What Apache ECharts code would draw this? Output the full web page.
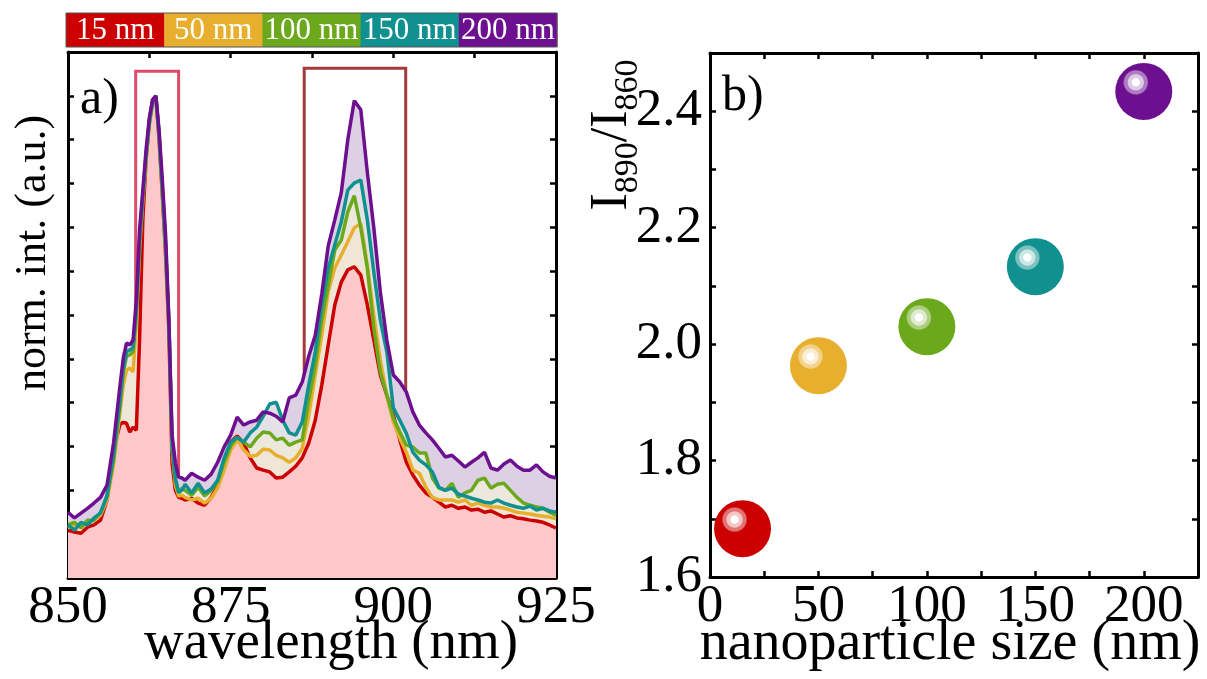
<!DOCTYPE html>
<html>
<head>
<meta charset="utf-8">
<script src="https://cdn.jsdelivr.net/npm/echarts@6/dist/echarts.min.js"></script>
<style>html,body{margin:0;padding:0;background:#fff}#c{width:1207px;height:679px}</style>
</head>
<body>
<div id="c"></div>
<script>
// ---------- data ----------
const wavelengths = [850,851,852,853,854,855,856,857,858,858.5,859,859.5,860,860.5,861,861.5,862,862.5,863,863.5,864,864.5,865,865.5,866,866.5,867,867.5,868,
  869,870,871,872,873,874,875,876,877,878,879,880,881,882,883,884,885,886,887,888,889,890,891,892,893,894,895,896,897,898,899,900,
  901,902,903,904,905,906,907,908,909,910,911,912,913,914,915,916,917,918,919,920,921,922,923,924,925];

const spec15nm = [0.009,0.005,0.002,0.016,0.021,0.032,0.078,0.192,0.251,0.255,0.253,0.233,0.244,0.237,0.443,0.717,0.854,0.945,0.991,1.000,0.900,0.774,0.637,0.466,0.160,0.100,0.084,0.082,0.078,
  0.082,0.071,0.066,0.084,0.112,0.164,0.210,0.224,0.208,0.174,0.151,0.146,0.142,0.128,0.130,0.142,0.155,0.174,0.208,0.260,0.340,0.432,0.523,0.575,0.603,0.610,0.591,0.523,0.443,0.363,0.317,0.272,
  0.215,0.164,0.135,0.112,0.094,0.084,0.073,0.062,0.066,0.059,0.062,0.055,0.057,0.050,0.053,0.046,0.039,0.042,0.037,0.035,0.032,0.030,0.027,0.021,0.014];

const spec50nm = [0.014,0.021,0.021,0.027,0.032,0.043,0.078,0.158,0.279,0.340,0.374,0.379,0.370,0.477,0.648,0.763,0.854,0.934,0.982,1.000,0.906,0.781,0.648,0.477,0.196,0.112,0.087,0.089,0.084,
  0.078,0.082,0.071,0.082,0.105,0.146,0.192,0.215,0.192,0.178,0.180,0.194,0.192,0.180,0.174,0.164,0.174,0.196,0.270,0.363,0.454,0.553,0.607,0.637,0.667,0.699,0.708,0.614,0.500,0.397,0.317,0.256,
  0.219,0.187,0.146,0.139,0.107,0.084,0.078,0.078,0.078,0.073,0.078,0.066,0.071,0.066,0.062,0.062,0.059,0.055,0.050,0.048,0.046,0.043,0.041,0.039,0.035];

const spec100nm = [0.021,0.027,0.014,0.032,0.032,0.050,0.084,0.169,0.295,0.370,0.406,0.409,0.416,0.500,0.660,0.767,0.858,0.936,0.984,1.000,0.909,0.785,0.653,0.484,0.199,0.123,0.094,0.105,0.100,
  0.089,0.107,0.087,0.100,0.119,0.164,0.201,0.221,0.210,0.199,0.219,0.233,0.231,0.215,0.219,0.203,0.210,0.215,0.306,0.386,0.489,0.568,0.648,0.671,0.735,0.772,0.699,0.607,0.470,0.370,0.317,0.265,
  0.233,0.203,0.199,0.185,0.185,0.128,0.105,0.100,0.116,0.084,0.094,0.100,0.123,0.128,0.105,0.114,0.116,0.100,0.084,0.071,0.066,0.062,0.059,0.050,0.043];

const spec150nm = [0.021,0.009,0.027,0.021,0.037,0.048,0.089,0.180,0.306,0.379,0.416,0.420,0.425,0.511,0.671,0.774,0.865,0.941,0.986,1.000,0.911,0.790,0.660,0.489,0.203,0.128,0.096,0.100,0.114,
  0.094,0.116,0.094,0.103,0.123,0.174,0.210,0.221,0.210,0.231,0.244,0.269,0.297,0.301,0.260,0.231,0.226,0.256,0.340,0.416,0.523,0.607,0.660,0.712,0.785,0.801,0.808,0.717,0.598,0.489,0.416,0.288,
  0.260,0.230,0.187,0.169,0.158,0.142,0.107,0.100,0.105,0.091,0.087,0.082,0.078,0.073,0.071,0.078,0.071,0.066,0.062,0.059,0.064,0.055,0.059,0.053,0.050];

const spec200nm = [0.050,0.037,0.048,0.059,0.071,0.084,0.112,0.208,0.340,0.402,0.436,0.432,0.443,0.534,0.694,0.785,0.877,0.950,0.991,1.000,0.922,0.808,0.683,0.489,0.226,0.164,0.130,0.128,0.123,
  0.139,0.130,0.123,0.137,0.164,0.199,0.226,0.267,0.249,0.256,0.260,0.279,0.276,0.269,0.256,0.311,0.317,0.347,0.406,0.454,0.548,0.658,0.717,0.779,0.900,0.989,0.968,0.826,0.699,0.553,0.443,0.363,
  0.347,0.324,0.279,0.249,0.231,0.215,0.196,0.176,0.180,0.167,0.153,0.164,0.174,0.187,0.151,0.146,0.160,0.169,0.155,0.146,0.146,0.158,0.142,0.132,0.128];

const sizeLabels = ['15 nm','50 nm','100 nm','150 nm','200 nm'];
const sizes = [15, 50, 100, 150, 200];
const ratios = [1.683, 1.963, 2.030, 2.133, 2.434];

const xTicksA = [850, 875, 900, 925];
const xTicksB = [0, 50, 100, 150, 200];
const yTicksB = [1.6, 1.8, 2.0, 2.2, 2.4];

// highlighted windows (nm, normalised intensity)
const box860 = [860.4, 867.0, -0.090, 1.056];
const box890 = [886.3, 901.9, -0.082, 1.063];

// ---------- styling ----------
const FONT = '"Liberation Serif", "DejaVu Serif", serif';
const colors = ['#CC0000', '#E8AF2E', '#6BA81C', '#10908F', '#6C1090'];
const areaColors = ['#FEC8CA', '#EFE6D8', '#EDE8DC', '#E4E2E6', '#DDD0E4'];
const spectra = [spec15nm, spec50nm, spec100nm, spec150nm, spec200nm];

function mix(hex, t) {
  const n = parseInt(hex.slice(1), 16);
  const r = (n >> 16) & 255, g = (n >> 8) & 255, b = n & 255;
  const m = v => Math.round(v + (255 - v) * t);
  return 'rgb(' + m(r) + ',' + m(g) + ',' + m(b) + ')';
}
function sphere(c) {
  return {
    type: 'radial', x: 0.36, y: 0.34, r: 0.5,
    colorStops: [
      {offset: 0, color: '#ffffff'}, {offset: 0.13, color: '#ffffff'},
      {offset: 0.16, color: mix(c, 0.78)}, {offset: 0.27, color: mix(c, 0.78)},
      {offset: 0.30, color: mix(c, 0.45)}, {offset: 0.40, color: mix(c, 0.45)},
      {offset: 0.45, color: c}, {offset: 1, color: c}
    ]
  };
}

const axLine = {show: true, onZero: false, lineStyle: {color: '#000', width: 3}};
const axTick = {show: true, inside: true, length: 6, lineStyle: {color: '#000', width: 2.5}};
const noLabel = {show: false};
const tickFont = {color: '#000', fontFamily: FONT, fontSize: 53};

const chart = echarts.init(document.getElementById('c'), null, {renderer: 'canvas'});

const series = [];
// filled areas, back to front: 200 nm ... 15 nm
for (let i = 4; i >= 0; i--) {
  series.push({
    type: 'line', xAxisIndex: 0, yAxisIndex: 0, z: 1, silent: true,
    symbol: 'none', lineStyle: {opacity: 0},
    areaStyle: {color: areaColors[i], opacity: 1, origin: 'start'},
    data: wavelengths.map((w, k) => [w, spectra[i][k]])
  });
}
// lines: 15 nm first, 200 nm on top
for (let i = 0; i <= 4; i++) {
  const s = {
    type: 'line', xAxisIndex: 0, yAxisIndex: 0, z: 2, silent: true,
    symbol: 'none', lineStyle: {color: colors[i], width: 3.5},
    data: wavelengths.map((w, k) => [w, spectra[i][k]])
  };
  if (i === 4) {
    s.markArea = {
      silent: true,
      data: [
        [{xAxis: box860[0], yAxis: box860[3], itemStyle: {color: 'rgba(0,0,0,0)', borderColor: '#DC4C68', borderWidth: 3}},
         {xAxis: box860[1], yAxis: box860[2]}],
        [{xAxis: box890[0], yAxis: box890[3], itemStyle: {color: 'rgba(0,0,0,0)', borderColor: '#A23C3C', borderWidth: 3}},
         {xAxis: box890[1], yAxis: box890[2]}]
      ]
    };
  }
  series.push(s);
}
series.push({
  type: 'scatter', xAxisIndex: 2, yAxisIndex: 2, z: 3, silent: true,
  symbol: 'circle', symbolSize: 57,
  data: sizes.map((s, i) => ({value: [s, ratios[i]], itemStyle: {color: sphere(colors[i]), opacity: 1}}))
});

// legend strip
const legendX = 66, legendY = 13, legendW = 98.2, legendH = 34;
const graphic = [];
sizeLabels.forEach((t, i) => {
  graphic.push({type: 'rect', shape: {x: legendX + i * legendW, y: legendY, width: legendW + 0.5, height: legendH},
    style: {fill: colors[i]}});
  graphic.push({type: 'text', x: legendX + i * legendW + legendW / 2, y: legendY + legendH / 2 + 1,
    style: {text: t, fill: '#fff', font: '31px ' + FONT, align: 'center', verticalAlign: 'middle'}});
});
graphic.push({type: 'rect', shape: {x: legendX, y: legendY, width: legendW * 5, height: legendH},
  style: {fill: 'none', stroke: '#555', lineWidth: 1}});
graphic.push({type: 'text', x: 80, y: 100, style: {text: 'a)', fill: '#000', font: '50px ' + FONT, align: 'left', verticalAlign: 'middle'}});
graphic.push({type: 'text', x: 722, y: 97, style: {text: 'b)', fill: '#000', font: '50px ' + FONT, align: 'left', verticalAlign: 'middle'}});
graphic.push({type: 'text', x: 33, y: 253, rotation: Math.PI / 2,
  style: {text: 'norm. int. (a.u.)', fill: '#000', font: '44px ' + FONT, align: 'center', verticalAlign: 'middle'}});
graphic.push({type: 'text', x: 331, y: 644,
  style: {text: 'wavelength (nm)', fill: '#000', font: '55px ' + FONT, align: 'center', verticalAlign: 'middle'}});
graphic.push({type: 'text', x: 950, y: 644,
  style: {text: 'nanoparticle size (nm)', fill: '#000', font: '56px ' + FONT, align: 'center', verticalAlign: 'middle'}});
graphic.push({type: 'text', x: 612, y: 135, rotation: Math.PI / 2,
  style: {text: '{m|I}{s|890}{m|/I}{s|860}', fill: '#000', align: 'center', verticalAlign: 'middle',
    rich: {
      m: {fontSize: 52, fontFamily: FONT, lineHeight: 66, fill: '#000'},
      s: {fontSize: 34, fontFamily: FONT, lineHeight: 30, verticalAlign: 'bottom', fill: '#000'}
    }}});

const option = {
  backgroundColor: '#fff',
  animation: false,
  grid: [
    {left: 68, top: 52, width: 488, height: 526, containLabel: false},
    {left: 710, top: 53, width: 488, height: 524, containLabel: false}
  ],
  xAxis: [
    {type: 'value', gridIndex: 0, position: 'bottom', min: 850, max: 925, interval: 12.5,
      axisLine: axLine, axisTick: axTick, splitLine: {show: false},
      axisLabel: Object.assign({margin: 4, formatter: v => xTicksA.indexOf(v) >= 0 ? String(v) : ''}, tickFont)},
    {type: 'value', gridIndex: 0, position: 'top', min: 850, max: 925, interval: 12.5,
      axisLine: axLine, axisTick: axTick, splitLine: {show: false}, axisLabel: noLabel},
    {type: 'value', gridIndex: 1, position: 'bottom', min: 0, max: 225, interval: 25,
      axisLine: axLine, axisTick: axTick, splitLine: {show: false},
      axisLabel: Object.assign({margin: 4, formatter: v => xTicksB.indexOf(v) >= 0 ? String(v) : ''}, tickFont)},
    {type: 'value', gridIndex: 1, position: 'top', min: 0, max: 225, interval: 25,
      axisLine: axLine, axisTick: axTick, splitLine: {show: false}, axisLabel: noLabel}
  ],
  yAxis: [
    {type: 'value', gridIndex: 0, position: 'left', min: -0.1, max: 1.1, interval: 0.1,
      axisLine: axLine, axisTick: axTick, splitLine: {show: false}, axisLabel: noLabel},
    {type: 'value', gridIndex: 0, position: 'right', min: -0.1, max: 1.1, interval: 0.1,
      axisLine: axLine, axisTick: axTick, splitLine: {show: false}, axisLabel: noLabel},
    {type: 'value', gridIndex: 1, position: 'left', min: 1.6, max: 2.5, interval: 0.1,
      axisLine: axLine, axisTick: axTick, splitLine: {show: false},
      axisLabel: Object.assign({margin: 8, formatter: v => {
        const r = Math.round(v * 10) / 10;
        return yTicksB.some(t => Math.abs(t - r) < 1e-6) ? r.toFixed(1) : '';
      }}, tickFont)},
    {type: 'value', gridIndex: 1, position: 'right', min: 1.6, max: 2.5, interval: 0.1,
      axisLine: axLine, axisTick: axTick, splitLine: {show: false}, axisLabel: noLabel}
  ],
  series: series,
  graphic: graphic
};
chart.setOption(option);
</script>
</body>
</html>
